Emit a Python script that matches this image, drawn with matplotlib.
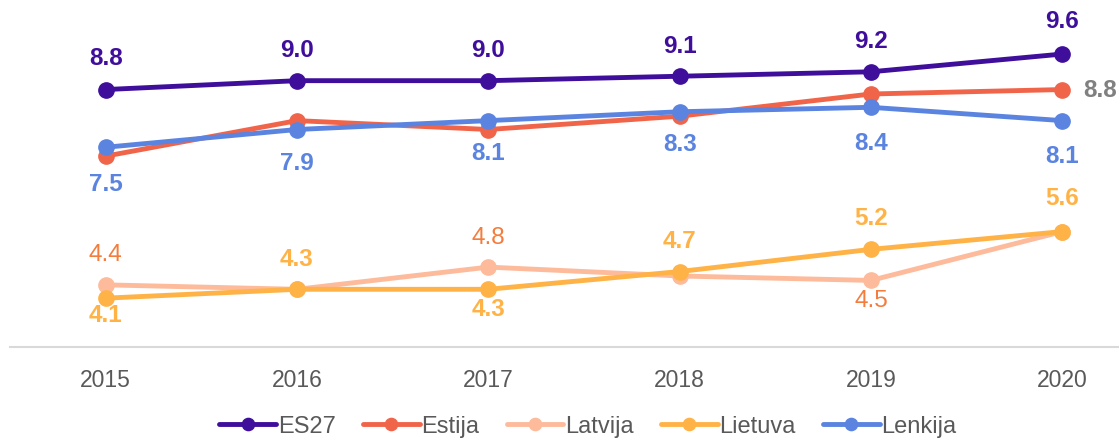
import matplotlib
matplotlib.use("Agg")
import matplotlib.pyplot as plt
from matplotlib import font_manager

years = ["2015", "2016", "2017", "2018", "2019", "2020"]
es27 = [8.8, 9.0, 9.0, 9.1, 9.2, 9.6]
estija = [7.3, 8.1, 7.9, 8.2, 8.7, 8.8]
latvija = [4.4, 4.3, 4.8, 4.6, 4.5, 5.6]
lietuva = [4.1, 4.3, 4.3, 4.7, 5.2, 5.6]
lenkija = [7.5, 7.9, 8.1, 8.3, 8.4, 8.1]

names = ["ES27", "Estija", "Latvija", "Lietuva", "Lenkija"]
colors = ["#3F0E9B", "#F0654A", "#FDBB9B", "#FFB347", "#5B84E0"]

avail = {f.name for f in font_manager.fontManager.ttflist}
base = "Liberation Sans" if "Liberation Sans" in avail else "DejaVu Sans"
plt.rcParams["font.family"] = [base, "DejaVu Sans"]

fig = plt.figure(figsize=(11.19, 4.39), dpi=100)
ax = fig.add_axes([10 / 1119, 91 / 439, 1 - 10 / 1119, 348 / 439])

x = list(range(len(years)))
series = [es27, estija, latvija, lietuva, lenkija]
order = [2, 3, 1, 4, 0]
for i in order:
    ax.plot(x, series[i], color=colors[i], lw=3.5, marker="o", ms=11,
            label=names[i], zorder=3 + i * 0.1, solid_capstyle="round")

ax.set_xlim(-0.5, 5.5 - 39 / 191.4)
ax.set_ylim(3.0, 10.84)
ax.set_yticks([])
ax.set_xticks(x)
ax.set_xticklabels(years, fontsize=16.5, color="#595959")
ax.tick_params(axis="x", length=0, pad=15)
for s in ["top", "right", "left"]:
    ax.spines[s].set_visible(False)
ax.spines["bottom"].set_color("#D9D9D9")
ax.spines["bottom"].set_linewidth(1.5)

px = 72 / 100.0
def lab(xi, v, dy, color, bold=True, dx=0):
    ax.annotate(f"{v:.1f}", (xi, v), xytext=(dx * px, dy * px), textcoords="offset points",
                ha="center", va="center", fontsize=17.5, color=color,
                fontweight="bold" if bold else "normal", zorder=10)

es_off = [32, 31, 31, 31, 31, 34]
for i, v in enumerate(es27):
    lab(i, v, es_off[i], colors[0])
len_off = [-36, -33, -32, -32, -35, -35]
for i, v in enumerate(lenkija):
    lab(i, v, len_off[i], colors[4])
lab(5, estija[5], 0, "#808080", dx=38)
lat_col = "#F47C3C"
lab(0, latvija[0], 31, lat_col, bold=False)
lab(2, latvija[2], 30, lat_col, bold=False)
lab(4, latvija[4], -20, lat_col, bold=False)
lie_col = "#FFB347"
lie_off = [-16, 31, -19, 31, 32, 34]
for i, v in enumerate(lietuva):
    lab(i, v, lie_off[i], lie_col)

handles, labels = ax.get_legend_handles_labels()
hmap = dict(zip(labels, handles))
leg = fig.legend([hmap[n] for n in names], names, loc="center", bbox_to_anchor=(588 / 1119, 1 - 427 / 439),
                 ncol=5, frameon=False, handlelength=2.4, handletextpad=0.08, columnspacing=1.15,
                 prop={"family": base, "size": 17}, markerscale=0.8, borderpad=0.0)
for t in leg.get_texts():
    t.set_color("#595959")

fig.savefig("out.png", dpi=100)
